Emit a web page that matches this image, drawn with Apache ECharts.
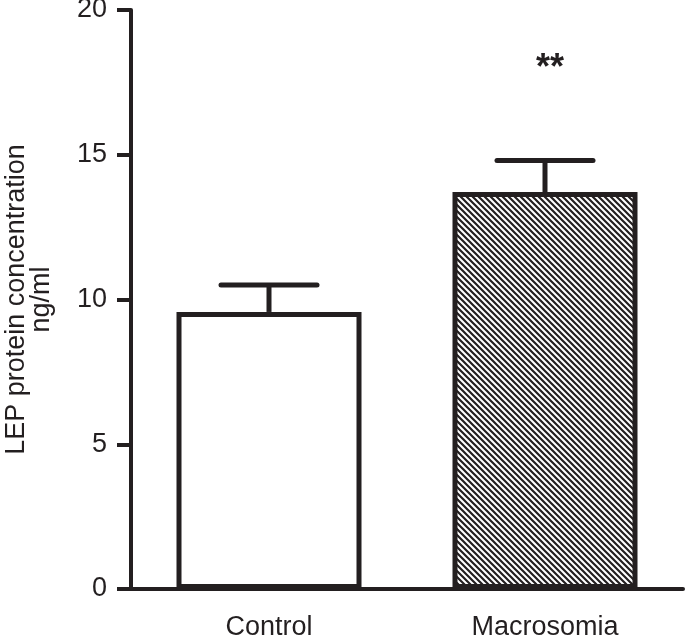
<!DOCTYPE html>
<html>
<head>
<meta charset="utf-8">
<script src="https://cdn.jsdelivr.net/npm/echarts@6/dist/echarts.min.js"></script>
<style>html,body{margin:0;padding:0;background:#fff}#c{width:685px;height:635px}</style>
</head>
<body>
<div id="c"></div>
<script>
const categories = ['Control', 'Macrosomia'];
const meanValues = [9.57, 13.71];
const errorTops = [10.50, 14.80];
const significance = ['', '**'];
const yTicks = [0, 5, 10, 15, 20];

const INK = '#231f20';
const FONT = 'Liberation Sans, Arial, Helvetica, sans-serif';

// hatch pattern (diagonal "\" lines)
const p = 6;
const pc = document.createElement('canvas');
pc.width = p; pc.height = p;
const g = pc.getContext('2d');
g.fillStyle = '#fff'; g.fillRect(0, 0, p, p);
g.strokeStyle = INK; g.lineWidth = 2.2;
g.beginPath();
g.moveTo(-1, -1); g.lineTo(p + 1, p + 1);
g.moveTo(-1, p - 1); g.lineTo(1, p + 1);
g.moveTo(p - 1, -1); g.lineTo(p + 1, 1);
g.stroke();

const chart = echarts.init(document.getElementById('c'), null, {renderer: 'canvas'});
chart.setOption({
  animation: false,
  grid: {left: 131, right: 2, top: 10, bottom: 46, containLabel: false, outerBoundsMode: 'none'},
  xAxis: {
    type: 'category',
    data: categories,
    axisLine: {lineStyle: {color: INK, width: 4}},
    axisTick: {alignWithLabel: true, length: 12, lineStyle: {color: INK, width: 4}},
    axisLabel: {color: INK, fontSize: 27, fontFamily: FONT, margin: 25}
  },
  yAxis: {
    type: 'value',
    min: yTicks[0], max: yTicks[yTicks.length - 1], interval: 5,
    name: 'LEP protein concentration\nng/ml',
    nameLocation: 'middle',
    nameGap: 77,
    nameTextStyle: {color: INK, fontSize: 27, fontFamily: FONT, lineHeight: 25},
    axisLine: {show: true, lineStyle: {color: INK, width: 4}},
    axisTick: {show: true, length: 14, lineStyle: {color: INK, width: 4}},
    axisLabel: {color: INK, fontSize: 27, fontFamily: FONT, margin: 24},
    splitLine: {show: false}
  },
  series: [
    {
      type: 'bar',
      data: meanValues.map((v, i) => ({
        value: v,
        itemStyle: {color: i === 0 ? '#fff' : {image: pc, repeat: 'repeat'}}
      })),
      barWidth: 185,
      itemStyle: {borderColor: INK, borderWidth: 5},
      z: 2
    },
    {
      type: 'custom',
      data: categories.map((c, i) => [i, meanValues[i], errorTops[i]]),
      z: 1,
      renderItem: function (params, api) {
        const i = api.value(0);
        const base = api.coord([i, api.value(1)]);
        const top = api.coord([i, api.value(2)]);
        const half = 48;
        const children = [
          {type: 'line', shape: {x1: base[0], y1: base[1], x2: top[0], y2: top[1]},
            style: {stroke: INK, lineWidth: 5}},
          {type: 'line', shape: {x1: top[0] - half, y1: top[1], x2: top[0] + half, y2: top[1]},
            style: {stroke: INK, lineWidth: 5, lineCap: 'round'}}
        ];
        const s = significance[params.dataIndex];
        if (s) {
          children.push({type: 'text', x: top[0] + 5, y: top[1] - 91,
            style: {text: s, fill: INK, font: 'bold 36px ' + FONT, align: 'center', verticalAlign: 'middle'}});
        }
        return {type: 'group', children: children};
      }
    }
  ]
});
</script>
</body>
</html>
